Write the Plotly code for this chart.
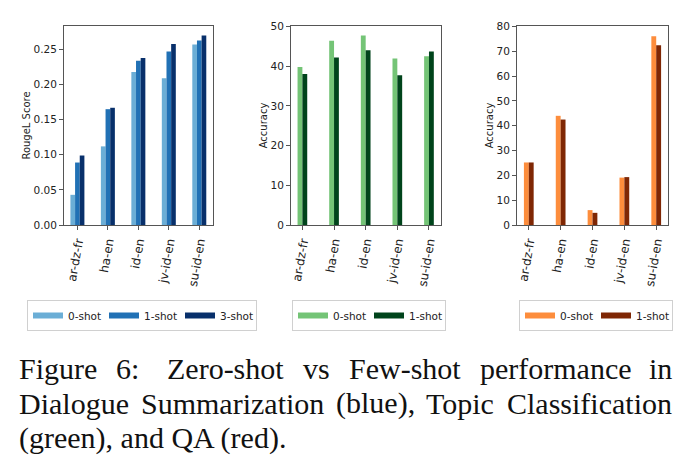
import plotly.graph_objects as go

W, H = 688, 473

categories = ["ar-dz-fr", "ha-en", "id-en", "jv-id-en", "su-id-en"]

# Dialogue Summarization (RougeL)
ds_0shot = [0.043, 0.112, 0.218, 0.209, 0.257]
ds_1shot = [0.089, 0.165, 0.234, 0.247, 0.263]
ds_3shot = [0.099, 0.167, 0.238, 0.258, 0.270]

# Topic Classification (Accuracy)
tc_0shot = [39.8, 46.4, 47.7, 41.9, 42.5]
tc_1shot = [38.0, 42.2, 44.0, 37.7, 43.7]

# QA (Accuracy)
qa_0shot = [25.2, 44.0, 6.0, 19.1, 76.1]
qa_1shot = [25.2, 42.5, 4.9, 19.3, 72.4]

blues = ["#6baed6", "#2171b5", "#08306b"]
greens = ["#74c476", "#00441b"]
oranges = ["#fd8d3c", "#7f2704"]

caption_line1 = ["Figure", "6:", "Zero-shot", "vs", "Few-shot", "performance", "in"]
caption_line2 = ["Dialogue", "Summarization", "(blue),", "Topic", "Classification"]
caption_line3 = "(green), and QA (red)."

fig = go.Figure()
xi = list(range(len(categories)))
BW = 0.153

def add_group(series, names, colors, ax, legend):
    n = len(series)
    for k, (vals, name, col) in enumerate(zip(series, names, colors)):
        off = (k - n / 2) * BW
        fig.add_trace(go.Bar(
            x=xi, y=vals, width=BW, offset=off, marker=dict(color=col, line=dict(width=0)),
            xaxis="x" + ax, yaxis="y" + ax, showlegend=False, name=name))
        fig.add_trace(go.Scatter(
            x=[None], y=[None], mode="lines", line=dict(color=col, width=6),
            xaxis="x" + ax, yaxis="y" + ax, name=name, legend=legend, showlegend=True))

add_group([ds_0shot, ds_1shot, ds_3shot], ["0-shot", "1-shot", "3-shot"], blues, "", "legend")
add_group([tc_0shot, tc_1shot], ["0-shot", "1-shot"], greens, "2", "legend2")
add_group([qa_0shot, qa_1shot], ["0-shot", "1-shot"], oranges, "3", "legend3")

tickfont_x = dict(family="DejaVu Sans", size=12, color="#222")
tickfont_y = dict(family="DejaVu Sans", size=10.5, color="#222")
axline = dict(showline=True, linecolor="#555", linewidth=1, mirror=True, showgrid=False,
              zeroline=False, ticks="outside", ticklen=4, tickcolor="#555")

def xax(domain, rng, anchor):
    return dict(domain=domain, range=rng, tickmode="array", tickvals=xi, ticktext=categories,
                tickangle=-80, tickfont=tickfont_x, anchor=anchor, **axline)

def yax(anchor, rng, dtick, fmt, title):
    return dict(domain=[1 - 225 / H, 1 - 26 / H], range=rng, dtick=dtick, tickformat=fmt,
                tickfont=tickfont_y, anchor=anchor,
                title=dict(text=title, font=dict(family="DejaVu Sans", size=10, color="#222"), standoff=1),
                **axline)

fig.update_layout(
    width=W, height=H, margin=dict(l=0, r=0, t=0, b=0, autoexpand=False),
    paper_bgcolor="white", plot_bgcolor="white", barmode="overlay",
    xaxis=xax([64 / W, 213 / W], [-0.44, 4.45], "y"),
    xaxis2=xax([291 / W, 441 / W], [-0.36, 4.38], "y2"),
    xaxis3=xax([517 / W, 668 / W], [-0.37, 4.37], "y3"),
    yaxis=yax("x", [0, 0.2835], 0.05, ".2f", "RougeL Score"),
    yaxis2=yax("x2", [0, 50.1], 10, "d", "Accuracy"),
    yaxis3=yax("x3", [0, 80.2], 10, "d", "Accuracy"),
)

legend_common = dict(orientation="h", yanchor="top", xanchor="left", y=1 - 300 / H,
                     bgcolor="white", bordercolor="#d0d0d0", borderwidth=1,
                     font=dict(family="DejaVu Sans", size=10.5, color="#222"),
                     entrywidth=31, entrywidthmode="pixels", itemwidth=30, tracegroupgap=0)
fig.update_layout(
    legend=dict(x=27 / W, **legend_common),
    legend2=dict(x=292 / W, **legend_common),
    legend3=dict(x=519 / W, **legend_common),
)

serif = dict(family="Liberation Serif", size=30, color="#111")
line1_x = [17, 114, 165, 301, 347, 478, 647]
line2_x = [17, 139, 334, 424, 505]
anns = []
for wds, xs, yc in [(caption_line1, line1_x, 368), (caption_line2, line2_x, 403)]:
    for w, x in zip(wds, xs):
        anns.append(dict(text=w, x=x / W, y=1 - yc / H, xref="paper", yref="paper",
                         xanchor="left", yanchor="middle", showarrow=False, font=serif))
anns.append(dict(text=caption_line3, x=17 / W, y=1 - 438 / H, xref="paper", yref="paper",
                 xanchor="left", yanchor="middle", showarrow=False, font=serif))
fig.update_layout(annotations=anns)

fig.write_html("out.html")
